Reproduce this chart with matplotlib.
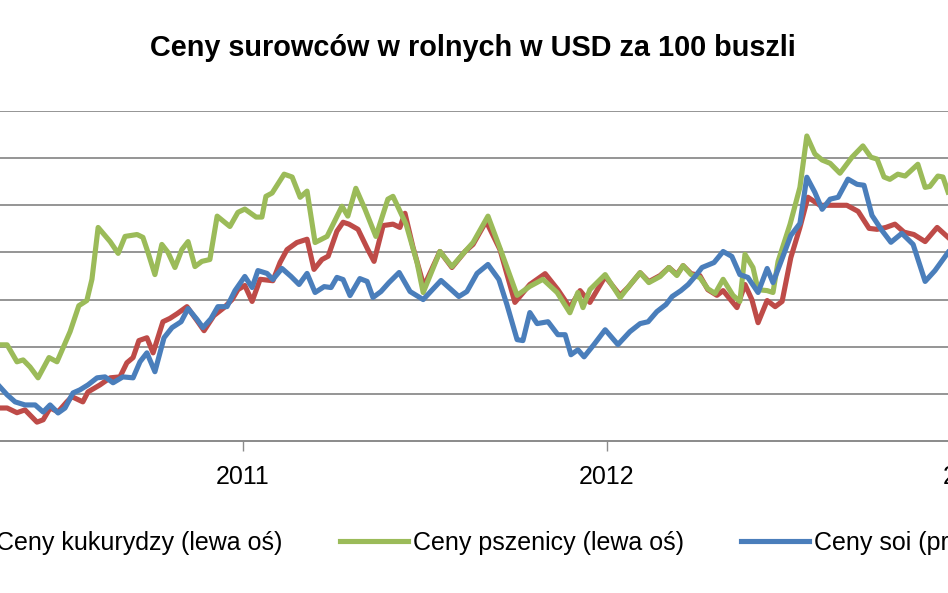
import numpy as np
import matplotlib.pyplot as plt

# data w ulamkach roku, ceny w USD za 100 buszli
kuk_lata = [2010.332, 2010.352, 2010.379, 2010.401, 2010.434, 2010.451, 2010.470, 2010.492, 2010.516, 2010.530,
            2010.560, 2010.574, 2010.607, 2010.635, 2010.662, 2010.681, 2010.698, 2010.714, 2010.736, 2010.753,
            2010.780, 2010.799, 2010.819, 2010.846, 2010.874, 2010.893, 2010.920, 2010.948, 2010.970, 2010.986,
            2011.005, 2011.025, 2011.047, 2011.082, 2011.102, 2011.121, 2011.148, 2011.176, 2011.195, 2011.217,
            2011.234, 2011.258, 2011.275, 2011.291, 2011.316, 2011.343, 2011.360, 2011.385, 2011.412, 2011.431,
            2011.445, 2011.467, 2011.497, 2011.541, 2011.574, 2011.610, 2011.632, 2011.668, 2011.706, 2011.747,
            2011.788, 2011.830, 2011.865, 2011.898, 2011.926, 2011.953, 2011.995, 2012.036, 2012.058, 2012.091,
            2012.115, 2012.146, 2012.170, 2012.192, 2012.209, 2012.231, 2012.255, 2012.277, 2012.302, 2012.319,
            2012.357, 2012.379, 2012.398, 2012.415, 2012.440, 2012.462, 2012.481, 2012.505, 2012.530, 2012.552,
            2012.585, 2012.621, 2012.659, 2012.690, 2012.720, 2012.742, 2012.766, 2012.791, 2012.816, 2012.843,
            2012.874, 2012.907, 2012.937]
kukurydza = [370, 370, 360, 366, 340, 345, 370, 362, 383, 394,
             383, 404, 419, 434, 436, 466, 477, 513, 519, 487,
             553, 560, 570, 585, 555, 534, 566, 583, 600, 621,
             630, 596, 643, 640, 679, 706, 721, 728, 664, 685,
             692, 745, 764, 760, 749, 706, 681, 757, 760, 753,
             783, 711, 628, 702, 668, 702, 717, 766, 706, 594,
             632, 655, 621, 583, 619, 594, 649, 609, 626, 657,
             638, 651, 668, 653, 672, 655, 651, 621, 609, 619,
             583, 632, 600, 551, 598, 585, 596, 689, 753, 817,
             800, 800, 800, 787, 751, 749, 753, 760, 743, 738,
             723, 753, 732]

psz_lata = [2010.332, 2010.352, 2010.379, 2010.396, 2010.415, 2010.437, 2010.467, 2010.489, 2010.525, 2010.549,
            2010.571, 2010.585, 2010.602, 2010.635, 2010.657, 2010.676, 2010.709, 2010.725, 2010.739, 2010.758,
            2010.777, 2010.794, 2010.813, 2010.832, 2010.849, 2010.868, 2010.887, 2010.909, 2010.929, 2010.964,
            2010.986, 2011.005, 2011.036, 2011.052, 2011.063, 2011.080, 2011.113, 2011.135, 2011.157, 2011.176,
            2011.198, 2011.231, 2011.272, 2011.288, 2011.310, 2011.335, 2011.365, 2011.398, 2011.412, 2011.448,
            2011.478, 2011.495, 2011.541, 2011.574, 2011.610, 2011.632, 2011.673, 2011.706, 2011.753, 2011.788,
            2011.824, 2011.863, 2011.898, 2011.920, 2011.934, 2011.953, 2011.995, 2012.036, 2012.058, 2012.091,
            2012.115, 2012.146, 2012.170, 2012.192, 2012.209, 2012.231, 2012.255, 2012.277, 2012.297, 2012.319,
            2012.346, 2012.365, 2012.379, 2012.401, 2012.415, 2012.440, 2012.456, 2012.470, 2012.503, 2012.530,
            2012.549, 2012.571, 2012.591, 2012.613, 2012.640, 2012.673, 2012.703, 2012.725, 2012.742, 2012.761,
            2012.777, 2012.799, 2012.819, 2012.854, 2012.874, 2012.887, 2012.909, 2012.923, 2012.937]
pszenica = [504, 504, 468, 472, 457, 434, 477, 468, 532, 587,
            598, 643, 753, 723, 698, 734, 738, 732, 700, 653,
            717, 700, 668, 706, 723, 670, 681, 685, 777, 755,
            785, 792, 775, 775, 819, 826, 866, 860, 817, 830,
            721, 734, 798, 777, 836, 792, 734, 813, 819, 760,
            679, 615, 702, 670, 702, 721, 777, 709, 609, 628,
            643, 615, 572, 615, 583, 621, 653, 604, 626, 657,
            636, 649, 668, 651, 672, 653, 647, 623, 613, 643,
            609, 596, 696, 668, 621, 619, 615, 681, 760, 838,
            947, 909, 896, 889, 868, 902, 926, 902, 898, 860,
            855, 866, 862, 887, 838, 840, 862, 860, 828]

soja_lata = [2010.332, 2010.352, 2010.374, 2010.401, 2010.429, 2010.451, 2010.470, 2010.492, 2010.511, 2010.533,
             2010.552, 2010.574, 2010.599, 2010.621, 2010.643, 2010.670, 2010.698, 2010.717, 2010.736, 2010.758,
             2010.783, 2010.805, 2010.830, 2010.849, 2010.874, 2010.890, 2010.912, 2010.931, 2010.956, 2010.978,
             2011.005, 2011.025, 2011.041, 2011.066, 2011.082, 2011.107, 2011.132, 2011.154, 2011.176, 2011.198,
             2011.223, 2011.242, 2011.258, 2011.275, 2011.294, 2011.321, 2011.341, 2011.357, 2011.379, 2011.401,
             2011.429, 2011.459, 2011.495, 2011.544, 2011.593, 2011.615, 2011.643, 2011.673, 2011.703, 2011.725,
             2011.753, 2011.769, 2011.788, 2011.808, 2011.838, 2011.865, 2011.885, 2011.901, 2011.920, 2011.937,
             2011.964, 2011.995, 2012.030, 2012.063, 2012.091, 2012.113, 2012.137, 2012.162, 2012.179, 2012.203,
             2012.223, 2012.242, 2012.261, 2012.294, 2012.319, 2012.343, 2012.365, 2012.387, 2012.415, 2012.440,
             2012.456, 2012.475, 2012.505, 2012.530, 2012.549, 2012.571, 2012.591, 2012.613, 2012.635, 2012.662,
             2012.687, 2012.706, 2012.728, 2012.755, 2012.780, 2012.810, 2012.841, 2012.874, 2012.901, 2012.937]
soja = [930, 896, 866, 853, 853, 823, 853, 819, 840, 904,
        917, 938, 968, 972, 947, 972, 968, 1036, 1074, 994,
        1138, 1181, 1206, 1262, 1215, 1181, 1219, 1270, 1270, 1338,
        1398, 1351, 1423, 1411, 1385, 1432, 1398, 1364, 1411, 1330,
        1355, 1351, 1394, 1385, 1317, 1389, 1377, 1309, 1334, 1372,
        1415, 1334, 1300, 1381, 1313, 1334, 1411, 1449, 1385, 1279,
        1130, 1126, 1245, 1198, 1206, 1151, 1151, 1066, 1087, 1057,
        1109, 1172, 1109, 1164, 1198, 1206, 1249, 1279, 1313, 1338,
        1364, 1398, 1436, 1457, 1504, 1483, 1406, 1394, 1330, 1432,
        1372, 1449, 1572, 1623, 1819, 1755, 1683, 1726, 1734, 1811,
        1789, 1785, 1657, 1594, 1543, 1581, 1534, 1377, 1423, 1500]

lata_ticks = [2011, 2012, 2013]
etykiety = ["Ceny kukurydzy (lewa oś)", "Ceny pszenicy (lewa oś)", "Ceny soi (prawa oś)"]

plt.rcParams['font.family'] = ['Liberation Sans', 'DejaVu Sans']

W, H = 948, 593
fig = plt.figure(figsize=(W / 100, H / 100), dpi=100)

# os wychodzi poza kadr (wykres przyciety z obu stron)
px0, px1 = -20, 1043
ax = fig.add_axes([px0 / W, (H - 441) / H, (px1 - px0) / W, (441 - 111) / H])
ax2 = ax.twinx()

l1, = ax.plot(kuk_lata, kukurydza, color='#BE4B48', lw=3.7, solid_joinstyle='round', zorder=3)
l2, = ax.plot(psz_lata, pszenica, color='#9BBB59', lw=3.7, solid_joinstyle='round', zorder=4)
l3, = ax2.plot(soja_lata, soja, color='#4A7EBB', lw=3.7, solid_joinstyle='round')

ax.set_xlim(2011 + (px0 - 243) / 364, 2011 + (px1 - 243) / 364)
ax.set_ylim(300, 1000)
ax2.set_ylim(700, 2100)

ax.set_yticks(np.arange(400, 1001, 100))
ax.yaxis.grid(True, color='#8c8c8c', lw=1.3)
ax.set_axisbelow(True)
ax.tick_params(axis='y', left=False, labelleft=False)
ax2.tick_params(axis='y', right=False, labelright=False)

ax.set_xticks(lata_ticks)
ax.set_xticklabels([str(r) for r in lata_ticks])
ax.tick_params(axis='x', length=7, width=1, color='#8c8c8c', pad=10, labelsize=18)

for a in (ax, ax2):
    for s in ['top', 'left', 'right']:
        a.spines[s].set_visible(False)
    a.spines['bottom'].set_color('#8c8c8c')
    a.spines['bottom'].set_linewidth(1.3)

fig.text(473 / W, 1 - 48 / H, "Ceny surowców w rolnych w USD za 100 buszli",
         ha='center', va='center', fontsize=20.8, fontweight='bold')

fig.legend([l1, l2, l3], etykiety, loc='center left', bbox_to_anchor=(-77 / W, 1 - 543 / H),
           ncol=3, frameon=False, fontsize=18, handlelength=2.72, handletextpad=0.2,
           columnspacing=2.3, borderaxespad=0, borderpad=0)

fig.savefig("out.png", dpi=100)
